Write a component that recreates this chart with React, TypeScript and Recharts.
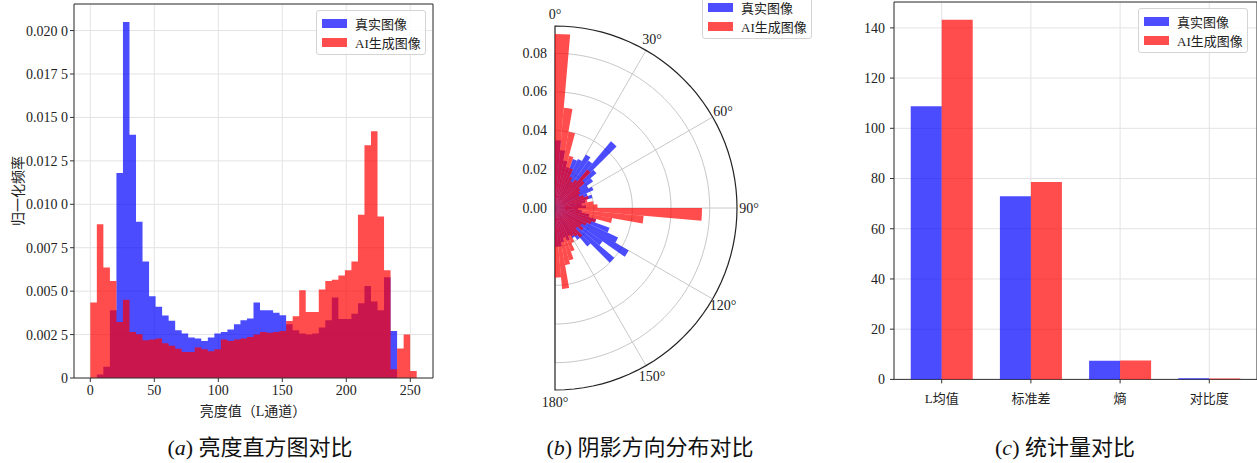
import React from "react";
import {
  AreaChart,
  Area,
  BarChart,
  Bar,
  XAxis,
  YAxis,
  CartesianGrid,
  ReferenceArea,
  RadialBarChart,
  RadialBar,
  PolarAngleAxis,
  PolarRadiusAxis,
  PolarGrid,
} from "recharts";

const SERIF = '"Liberation Serif", "Noto Sans CJK SC", serif';
const TEXT = "#222";
const GRID = "#e3e3e3";

const seriesNames = ["真实图像", "AI生成图像"];
const seriesFill = ["#0000ff", "#ff0000"];
const legendFill = ["#4d4dff", "#ff4d4d"];

// (a) L channel histogram, 50 bins over 0-255 (density)
const lumBinWidth = 5.1;
const lumReal = [
  0, 0.0002, 0.00065, 0.0039, 0.0118, 0.0205, 0.014, 0.009, 0.0067, 0.0047,
  0.0041, 0.0036, 0.0033, 0.00275, 0.00256, 0.00233, 0.00227, 0.00213, 0.00233, 0.00256,
  0.00265, 0.00279, 0.00309, 0.00332, 0.00342, 0.00435, 0.0039, 0.0039, 0.00375, 0.00361,
  0.00309, 0.00275, 0.00256, 0.0025, 0.00256, 0.0029, 0.00332, 0.00463, 0.0034, 0.0034,
  0.0037, 0.0043, 0.0053, 0.0044, 0.0039, 0.0058, 0.0027, 0, 0, 0,
];
const lumAI = [
  0.00434, 0.00885, 0.00636, 0.00559, 0.00323, 0.0045, 0.00265, 0.00252, 0.00217, 0.00222,
  0.00228, 0.002, 0.00185, 0.00169, 0.0015, 0.0015, 0.00175, 0.00165, 0.00154, 0.00165,
  0.00221, 0.00213, 0.00221, 0.00227, 0.00236, 0.0025, 0.00265, 0.0026, 0.00265, 0.0027,
  0.00328, 0.00355, 0.00505, 0.0038, 0.0038, 0.00509, 0.00559, 0.00565, 0.0059, 0.0062,
  0.0067, 0.0094, 0.0134, 0.0142, 0.0093, 0.0062, 0.0005, 0.0017, 0.0025, 0.0004,
];
const lumTicks = [0, 50, 100, 150, 200, 250];
const densityTicks = [0, 0.0025, 0.005, 0.0075, 0.01, 0.0125, 0.015, 0.0175, 0.02];

// (b) shadow direction, 5 degree bins over 0-180
const dirBinDeg = 5;
const dirReal = [
  0.035, 0.03, 0.025, 0.022, 0.027, 0.028, 0.032, 0.03, 0.045, 0.028,
  0.024, 0.02, 0.022, 0.018, 0.02, 0.016, 0.014, 0.016, 0.012, 0.014,
  0.018, 0.022, 0.03, 0.036, 0.044, 0.03, 0.04, 0.026, 0.02, 0.018,
  0.016, 0.018, 0.016, 0.018, 0.02, 0.02,
];
const dirAI = [
  0.09, 0.052, 0.04, 0.028, 0.022, 0.018, 0.016, 0.018, 0.026, 0.02,
  0.016, 0.015, 0.014, 0.016, 0.018, 0.017, 0.02, 0.022, 0.076, 0.046,
  0.03, 0.022, 0.02, 0.018, 0.016, 0.018, 0.015, 0.02, 0.018, 0.017,
  0.02, 0.024, 0.028, 0.03, 0.042, 0.036,
];
const dirRadiusTicks = [0, 0.02, 0.04, 0.06, 0.08];
const dirLabelStep = 30;

// (c) statistics
const statNames = ["L均值", "标准差", "熵", "对比度"];
const statReal = [108.8, 72.9, 7.4, 0.45];
const statAI = [143.2, 78.6, 7.5, 0.4];
const statTicks = [0, 20, 40, 60, 80, 100, 120, 140];

const lumData = [...lumReal, 0].map((_, i) => ({
  x: +(i * lumBinWidth).toFixed(2),
  real: lumReal[i] ?? 0,
  ai: lumAI[i] ?? 0,
}));

const dirData = dirReal.map((v, i) => ({
  mid: i * dirBinDeg + dirBinDeg / 2,
  real: v,
  ai: dirAI[i],
}));
// one tick per bin edge so the bar band is one bin wide; only every 30° is labelled
const dirEdgeTicks = [...dirReal, 0].map((_, i) => i * dirBinDeg);

const statData = statNames.map((name, i) => ({
  x: i,
  name,
  real: statReal[i],
  ai: statAI[i],
}));

const POLAR_R = 182;
const arcAngles = Array.from({ length: 61 }, (_, i) => 90 - i * 3);

const tickStyle = { fontSize: 14, fontFamily: SERIF, fill: TEXT };

const fmtDensity = (v: number) => {
  if (v === 0) return "0";
  const s = v.toFixed(4);
  return s.slice(0, 5) + " " + s.slice(5);
};

function LegendBox({ left, top }: { left: number; top: number }) {
  return (
    <div
      style={{
        position: "absolute",
        left,
        top,
        boxSizing: "border-box",
        border: "1px solid #d4d4d4",
        borderRadius: 3,
        background: "rgba(255,255,255,0.85)",
        padding: "3px 4px 2px 5px",
        fontFamily: SERIF,
        fontSize: 13,
        color: TEXT,
        whiteSpace: "nowrap",
      }}
    >
      {seriesNames.map((n, i) => (
        <div key={n} style={{ display: "flex", alignItems: "center", height: 19 }}>
          <span
            style={{
              display: "inline-block",
              width: 25,
              height: 9,
              background: legendFill[i],
              marginRight: 8,
            }}
          />
          {n}
        </div>
      ))}
    </div>
  );
}

const DegTick = (props: any) => {
  const v = Number(props.payload.value);
  if (v % dirLabelStep !== 0) return <g />;
  return (
    <text
      x={props.x}
      y={props.y}
      textAnchor="middle"
      dominantBaseline="central"
      fontSize={14}
      fontFamily={SERIF}
      fill={TEXT}
    >
      {v}°
    </text>
  );
};

const RadiusTick = (props: any) => (
  <text
    x={props.x - 8}
    y={props.y}
    textAnchor="end"
    dominantBaseline="central"
    fontSize={14}
    fontFamily={SERIF}
    fill={TEXT}
  >
    {Number(props.payload.value).toFixed(2)}
  </text>
);

function Caption({ x, letter, text }: { x: number; letter: string; text: string }) {
  return (
    <div
      style={{
        position: "absolute",
        left: x,
        top: 445,
        transform: "translate(-50%, -50%)",
        whiteSpace: "nowrap",
        fontFamily: SERIF,
        fontSize: 22,
        color: "#111",
      }}
    >
      (<i>{letter}</i>) {text}
    </div>
  );
}

function LumHistogram() {
  return (
    <AreaChart
      width={445}
      height={420}
      data={lumData}
      margin={{ top: 4, right: 12, left: 10, bottom: 0 }}
    >
      <CartesianGrid stroke={GRID} />
      <XAxis
        type="number"
        dataKey="x"
        domain={[-12.75, 267.75]}
        ticks={lumTicks}
        allowDataOverflow
        axisLine={false}
        tickSize={4}
        tickMargin={3}
        tickLine={{ stroke: "#333" }}
        tick={tickStyle}
        height={42}
      />
      <YAxis
        type="number"
        domain={[0, 0.02153]}
        ticks={densityTicks}
        allowDataOverflow
        tickFormatter={fmtDensity}
        axisLine={false}
        tickSize={4}
        tickMargin={2}
        tickLine={{ stroke: "#333" }}
        tick={tickStyle}
        width={64}
      />
      <Area
        type="stepAfter"
        dataKey="real"
        stroke="none"
        fill={seriesFill[0]}
        fillOpacity={0.7}
        dot={false}
        activeDot={false}
        isAnimationActive={false}
      />
      <Area
        type="stepAfter"
        dataKey="ai"
        stroke="none"
        fill={seriesFill[1]}
        fillOpacity={0.7}
        dot={false}
        activeDot={false}
        isAnimationActive={false}
      />
      <ReferenceArea
        x1={-12.75}
        x2={267.75}
        y1={0}
        y2={0.02153}
        fill="none"
        stroke="#333"
        strokeWidth={1}
      />
    </AreaChart>
  );
}

function DirectionPolar() {
  return (
    <RadialBarChart
      width={480}
      height={430}
      data={dirData}
      cx={195}
      cy={208}
      innerRadius={0}
      outerRadius={POLAR_R}
      startAngle={90}
      endAngle={-90}
      layout="centric"
      barGap="-100%"
      barCategoryGap="0%"
      margin={{ top: 0, right: 0, bottom: 0, left: 0 }}
    >
      <PolarAngleAxis
        dataKey="mid"
        type="number"
        domain={[0, 180]}
        ticks={dirEdgeTicks}
        allowDataOverflow
        axisLine={false}
        tickLine={false}
        tickSize={12}
        tick={DegTick}
      />
      <PolarRadiusAxis
        type="number"
        domain={[0, 0.0941]}
        ticks={dirRadiusTicks}
        allowDataOverflow
        angle={90}
        axisLine={false}
        tickLine={false}
        tick={RadiusTick}
      />
      <RadialBar dataKey="real" fill={seriesFill[0]} fillOpacity={0.7} isAnimationActive={false} />
      <RadialBar dataKey="ai" fill={seriesFill[1]} fillOpacity={0.7} isAnimationActive={false} />
      <PolarGrid gridType="polygon" polarAngles={arcAngles} radialLines={false} stroke="#c8c8c8" />
      <PolarGrid gridType="circle" polarAngles={[60, 30, 0, -30, -60]} polarRadius={[]} stroke="#c8c8c8" />
      <PolarGrid
        gridType="polygon"
        polarAngles={arcAngles}
        polarRadius={[POLAR_R]}
        radialLines={false}
        stroke="#222"
        strokeWidth={1.2}
      />
    </RadialBarChart>
  );
}

function StatBars() {
  return (
    <BarChart
      width={417}
      height={420}
      data={statData}
      margin={{ top: 2, right: 0, left: 0, bottom: 0 }}
      barCategoryGap="15.25%"
      barGap={0}
    >
      <CartesianGrid stroke={GRID} />
      <XAxis
        type="number"
        dataKey="x"
        domain={[-0.535, 3.535]}
        ticks={[0, 1, 2, 3]}
        tickFormatter={(v: number) => statNames[v]}
        allowDataOverflow
        axisLine={false}
        tickSize={4}
        tickMargin={10}
        tickLine={{ stroke: "#333" }}
        tick={{ ...tickStyle, fontSize: 13 }}
        height={40.6}
      />
      <YAxis
        type="number"
        domain={[0, 150.3]}
        ticks={statTicks}
        allowDataOverflow
        axisLine={false}
        tickSize={4}
        tickMargin={5}
        tickLine={{ stroke: "#333" }}
        tick={tickStyle}
        width={54}
      />
      <Bar dataKey="real" fill={seriesFill[0]} fillOpacity={0.7} isAnimationActive={false} />
      <Bar dataKey="ai" fill={seriesFill[1]} fillOpacity={0.7} isAnimationActive={false} />
      <ReferenceArea
        x1={-0.535}
        x2={3.535}
        y1={0}
        y2={150.3}
        fill="none"
        stroke="#333"
        strokeWidth={1}
      />
    </BarChart>
  );
}

export default function App() {
  return (
    <div
      style={{
        position: "absolute",
        left: 0,
        top: 0,
        width: 1257,
        height: 463,
        background: "#fff",
        overflow: "hidden",
        fontFamily: SERIF,
      }}
    >
      <div style={{ position: "absolute", left: 0, top: 0 }}>
        <LumHistogram />
      </div>
      <div
        style={{
          position: "absolute",
          left: 17,
          top: 191,
          transform: "translate(-50%, -50%) rotate(-90deg)",
          whiteSpace: "nowrap",
          fontSize: 14,
          color: TEXT,
        }}
      >
        归一化频率
      </div>
      <div
        style={{
          position: "absolute",
          left: 253,
          top: 410,
          transform: "translate(-50%, -50%)",
          whiteSpace: "nowrap",
          fontSize: 14,
          color: TEXT,
        }}
      >
        亮度值（L通道）
      </div>
      <LegendBox left={316} top={10} />

      <div style={{ position: "absolute", left: 360, top: 0 }}>
        <DirectionPolar />
      </div>
      <LegendBox left={702} top={-6} />

      <div style={{ position: "absolute", left: 840, top: 0 }}>
        <StatBars />
      </div>
      <LegendBox left={1138} top={8} />

      <Caption x={260} letter="a" text="亮度直方图对比" />
      <Caption x={650} letter="b" text="阴影方向分布对比" />
      <Caption x={1065} letter="c" text="统计量对比" />
    </div>
  );
}
